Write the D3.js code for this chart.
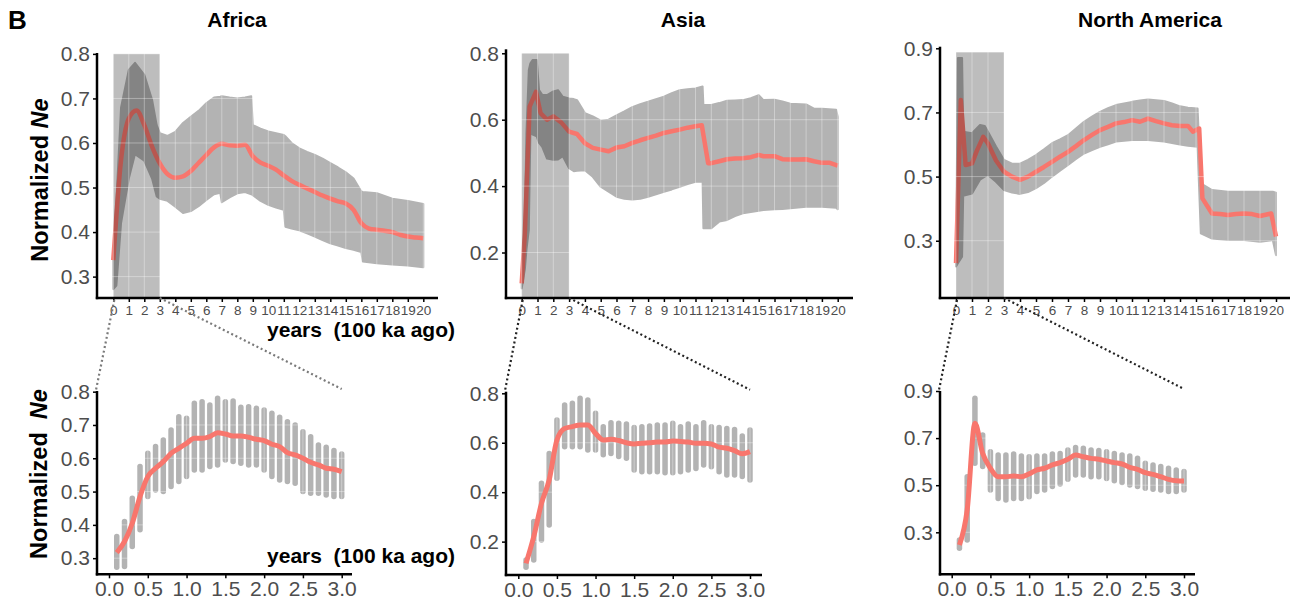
<!DOCTYPE html>
<html lang="en">
<head>
<meta charset="utf-8">
<title>Normalized Ne by continent</title>
<script src="https://d3js.org/d3.v7.min.js"></script>
<style>
    body { margin: 0; background: #fff; }
    svg { display: block; font-family: "Liberation Sans", Arial, Helvetica, sans-serif; }
    .ylab { white-space: pre; }
</style>
</head>
<body>
<svg id="chart" width="1297" height="600"></svg>
<script>
// ---- data ----
// top row: 0-20 (100 ka ago)
const africaLineX = [0,0.5,1,1.5,2,2.5,3,3.5,4,4.5,5,5.5,6,6.5,7,7.5,8,8.5,9,9.5,10,10.5,11,11.5,12,12.5,13,13.5,14,14.5,15,15.5,16,16.5,17,17.5,18,18.5,19,19.5,20];
const africaLineNe = [0.337,0.562,0.655,0.673,0.64,0.592,0.554,0.53,0.522,0.525,0.537,0.555,0.573,0.59,0.598,0.595,0.594,0.596,0.57,0.556,0.549,0.54,0.527,0.515,0.506,0.498,0.49,0.482,0.475,0.469,0.464,0.45,0.42,0.408,0.405,0.403,0.4,0.394,0.39,0.388,0.386];
const africaBandX = [0,0.2,0.5,1,1.4,2,2.5,2.8,3,3.5,4,4.5,5,5.5,6,6.5,6.9,7,7.5,8,8.5,8.9,9,9.5,10,10.5,11,11.1,11.5,12,12.5,13,13.5,14,14.5,15,15.5,16,16.1,17,18,19,20];
const africaBandLo = [0.272,0.28,0.42,0.52,0.575,0.56,0.52,0.48,0.475,0.47,0.457,0.443,0.447,0.458,0.472,0.485,0.488,0.467,0.478,0.487,0.49,0.485,0.483,0.47,0.461,0.455,0.45,0.412,0.408,0.404,0.397,0.39,0.382,0.375,0.37,0.364,0.36,0.355,0.334,0.33,0.327,0.325,0.321];
const africaBandHi = [0.34,0.47,0.68,0.764,0.78,0.753,0.697,0.64,0.622,0.616,0.625,0.645,0.659,0.672,0.689,0.702,0.704,0.705,0.702,0.7,0.702,0.705,0.64,0.632,0.626,0.622,0.618,0.615,0.6,0.588,0.58,0.573,0.565,0.555,0.545,0.534,0.52,0.491,0.49,0.487,0.475,0.47,0.463];

const asiaLineX = [0,0.2,0.5,0.9,1.2,1.6,2,2.5,3,3.5,4,4.5,5,5.5,6,6.5,7,7.5,8,8.5,9,9.5,10,10.5,11,11.4,11.8,12,12.5,13,13.5,14,14.5,15,15.3,16,16.5,17,17.5,18,18.5,19,19.5,20];
const asiaLineNe = [0.107,0.258,0.639,0.684,0.619,0.6,0.61,0.592,0.564,0.557,0.529,0.515,0.51,0.505,0.516,0.52,0.53,0.538,0.545,0.552,0.56,0.565,0.57,0.576,0.58,0.583,0.469,0.469,0.475,0.481,0.483,0.484,0.487,0.494,0.49,0.49,0.481,0.48,0.48,0.481,0.475,0.47,0.47,0.462];
const asiaBandX = [0,0.2,0.3,0.45,0.55,0.7,0.95,1.1,1.3,1.6,2,2.3,2.6,3,3.3,3.5,4,4.5,5,5.5,6,6.5,7,7.5,8,8.5,9,9.5,10,10.5,11,11.45,11.5,12,12.5,13,13.5,14,14.5,15,15.3,16,16.5,17,18,18.5,19,19.9,20];
const asiaBandLo = [0.092,0.15,0.208,0.268,0.56,0.555,0.55,0.53,0.518,0.483,0.479,0.48,0.49,0.454,0.445,0.446,0.448,0.428,0.398,0.383,0.368,0.362,0.36,0.362,0.368,0.375,0.383,0.39,0.398,0.406,0.413,0.413,0.273,0.273,0.293,0.298,0.31,0.318,0.322,0.326,0.328,0.33,0.331,0.333,0.338,0.338,0.338,0.335,0.33];
const asiaBandHi = [0.11,0.3,0.56,0.75,0.77,0.78,0.78,0.689,0.675,0.674,0.685,0.689,0.669,0.664,0.662,0.659,0.62,0.61,0.597,0.6,0.613,0.625,0.638,0.647,0.654,0.662,0.669,0.68,0.689,0.692,0.694,0.7,0.644,0.644,0.65,0.657,0.658,0.659,0.665,0.674,0.659,0.66,0.655,0.648,0.646,0.633,0.633,0.63,0.609];

const naLineX = [0,0.3,0.6,1,1.3,1.7,2,2.5,3,3.5,4,4.5,5,5.5,6,6.5,7,7.5,8,8.5,9,9.5,10,10.5,11,11.5,12,12.5,13,13.5,14,14.5,14.8,15.2,15.4,16,16.5,17,17.5,18,18.5,19,19.7,20];
const naLineNe = [0.23,0.739,0.536,0.541,0.58,0.624,0.603,0.55,0.515,0.5,0.49,0.5,0.515,0.53,0.546,0.562,0.577,0.595,0.614,0.63,0.645,0.655,0.666,0.67,0.676,0.671,0.681,0.673,0.666,0.66,0.658,0.658,0.64,0.65,0.432,0.385,0.383,0.38,0.383,0.385,0.383,0.377,0.385,0.313];
const naBandX = [0,0.12,0.38,0.45,1,1.5,1.8,2,2.5,3,3.5,4,4.5,5,5.5,6,6.5,7,7.5,8,8.5,9,9.5,10,10.5,11,11.5,12,12.5,13,13.5,14,14.5,15.1,15.3,16,17,18,19,19.8,20];
const naBandLo = [0.22,0.23,0.25,0.44,0.447,0.49,0.5,0.505,0.484,0.458,0.45,0.446,0.452,0.464,0.48,0.5,0.518,0.536,0.555,0.572,0.583,0.593,0.601,0.609,0.612,0.614,0.614,0.614,0.612,0.609,0.605,0.6,0.596,0.593,0.323,0.307,0.302,0.302,0.297,0.302,0.255];
const naBandHi = [0.24,0.87,0.87,0.64,0.635,0.661,0.658,0.64,0.594,0.552,0.54,0.54,0.552,0.567,0.585,0.604,0.616,0.629,0.65,0.671,0.687,0.702,0.713,0.723,0.728,0.733,0.737,0.74,0.738,0.736,0.728,0.719,0.715,0.712,0.479,0.458,0.453,0.453,0.453,0.453,0.45];

// zoom window (0-3) drawn on the top row, top edge in Ne units
const windowTop = [0.8, 0.8, 0.8875];

// bottom row: zoomed 0-3
const zoomX = [0.1,0.2,0.3,0.4,0.5,0.6,0.7,0.8,0.9,1.0,1.1,1.2,1.3,1.4,1.5,1.6,1.7,1.8,1.9,2.0,2.1,2.2,2.3,2.4,2.5,2.6,2.7,2.8,2.9,3.0];
const africaZoomNe = [0.317,0.35,0.405,0.485,0.545,0.57,0.59,0.615,0.63,0.645,0.66,0.66,0.665,0.677,0.673,0.667,0.667,0.663,0.657,0.653,0.642,0.635,0.617,0.61,0.6,0.588,0.58,0.57,0.567,0.56];
const africaZoomHi = [0.365,0.41,0.48,0.575,0.615,0.635,0.655,0.685,0.725,0.72,0.765,0.77,0.76,0.78,0.77,0.772,0.753,0.755,0.75,0.745,0.735,0.723,0.71,0.7,0.68,0.665,0.64,0.633,0.623,0.613];
const africaZoomLo = [0.273,0.275,0.335,0.385,0.485,0.505,0.5,0.515,0.53,0.545,0.565,0.565,0.575,0.58,0.595,0.59,0.585,0.58,0.58,0.565,0.545,0.535,0.53,0.525,0.5,0.495,0.495,0.49,0.485,0.485];

const asiaZoomNe = [0.112,0.22,0.355,0.45,0.611,0.658,0.665,0.672,0.672,0.638,0.611,0.614,0.609,0.6,0.595,0.598,0.6,0.603,0.603,0.607,0.605,0.603,0.598,0.598,0.595,0.582,0.578,0.568,0.555,0.564];
const asiaZoomHi = [0.126,0.281,0.436,0.557,0.692,0.753,0.76,0.78,0.773,0.719,0.665,0.681,0.679,0.676,0.662,0.665,0.668,0.672,0.672,0.679,0.665,0.676,0.665,0.681,0.665,0.662,0.658,0.654,0.627,0.652];
const asiaZoomLo = [0.096,0.126,0.207,0.267,0.456,0.584,0.584,0.584,0.571,0.571,0.551,0.557,0.544,0.537,0.49,0.483,0.483,0.483,0.479,0.479,0.483,0.49,0.496,0.51,0.503,0.483,0.47,0.47,0.463,0.449];

const naZoomNe = [0.246,0.395,0.763,0.635,0.572,0.536,0.536,0.539,0.536,0.548,0.565,0.572,0.586,0.596,0.61,0.628,0.621,0.614,0.61,0.603,0.596,0.59,0.576,0.567,0.553,0.546,0.536,0.525,0.519,0.518];
const naZoomHi = [0.267,0.536,0.869,0.713,0.642,0.628,0.628,0.633,0.624,0.621,0.624,0.624,0.633,0.635,0.65,0.66,0.657,0.65,0.647,0.642,0.635,0.628,0.624,0.614,0.593,0.586,0.579,0.572,0.565,0.558];
const naZoomLo = [0.232,0.267,0.593,0.579,0.48,0.444,0.437,0.444,0.444,0.451,0.473,0.48,0.494,0.505,0.525,0.543,0.543,0.536,0.536,0.529,0.519,0.511,0.501,0.494,0.487,0.483,0.48,0.473,0.473,0.48];

// ticks
const topXTicks = [0,1,2,3,4,5,6,7,8,9,10,11,12,13,14,15,16,17,18,19,20];
const zoomXTicks = [0,0.5,1,1.5,2,2.5,3];
const africaYTicks = [0.3,0.4,0.5,0.6,0.7,0.8];
const asiaYTicks = [0.2,0.4,0.6,0.8];
const naYTicks = [0.3,0.5,0.7,0.9];

const titles = ["Africa", "Asia", "North America"];

// ---- layout ----
const RED = "#f8766d", BAND = "#b3b3b3", TICKTXT = "#4d4d4d";

const panels = [
    {
        title: titles[0], titleX: 237, yTicks: africaYTicks, win: windowTop[0], smooth: true, connColor: "#7a7a7a",
        top: {left: 97, right: 438, x0: 113.3, x1: 423.3, yTop: 53, yBot: 298, dom: [0.252, 0.802]},
        bot: {left: 97, right: 352, x0: 109, x1: 341.7, yTop: 391, yBot: 574.3, dom: [0.2516, 0.802]},
        lineX: africaLineX, lineNe: africaLineNe, bandX: africaBandX, bandLo: africaBandLo, bandHi: africaBandHi,
        zNe: africaZoomNe, zHi: africaZoomHi, zLo: africaZoomLo
    },
    {
        title: titles[1], titleX: 683, yTicks: asiaYTicks, win: windowTop[1], smooth: false, connColor: "#222",
        top: {left: 506, right: 853, x0: 521.7, x1: 837.7, yTop: 49.3, yBot: 298, dom: [0.063, 0.812]},
        bot: {left: 506, right: 762, x0: 518.3, x1: 750, yTop: 391.7, yBot: 575, dom: [0.065, 0.8065]},
        lineX: asiaLineX, lineNe: asiaLineNe, bandX: asiaBandX, bandLo: asiaBandLo, bandHi: asiaBandHi,
        zNe: asiaZoomNe, zHi: asiaZoomHi, zLo: asiaZoomLo
    },
    {
        title: titles[2], titleX: 1150, yTicks: naYTicks, win: windowTop[2], smooth: false, connColor: "#222",
        top: {left: 940, right: 1290, x0: 956, x1: 1276, yTop: 46.7, yBot: 298, dom: [0.1214, 0.905]},
        bot: {left: 940, right: 1195, x0: 951.7, x1: 1184, yTop: 391, yBot: 574.3, dom: [0.1217, 0.9]},
        lineX: naLineX, lineNe: naLineNe, bandX: naBandX, bandLo: naBandLo, bandHi: naBandHi,
        zNe: naZoomNe, zHi: naZoomHi, zLo: naZoomLo
    }
];

const svg = d3.select("#chart");

function styleAxis(g, fontSize) {
    g.select(".domain").remove();
    g.selectAll(".tick line").attr("stroke", "#000").attr("stroke-width", 1.5);
    g.selectAll(".tick text").attr("fill", TICKTXT).attr("font-size", fontSize)
        .attr("font-family", "'Liberation Sans', Arial, Helvetica, sans-serif");
}

function drawAxes(g, box, x, y, xTicks, yTicks, xFmt, xFont) {
    g.append("g").attr("transform", `translate(${box.left},0)`)
        .call(d3.axisLeft(y).tickValues(yTicks).tickSize(4).tickPadding(3).tickFormat(d3.format(".1f")))
        .call(a => styleAxis(a, 21));
    g.append("g").attr("transform", `translate(0,${box.yBot})`)
        .call(d3.axisBottom(x).tickValues(xTicks).tickSize(4).tickPadding(3).tickFormat(xFmt))
        .call(a => styleAxis(a, xFont));
    // axis lines
    g.append("line").attr("x1", box.left).attr("x2", box.left).attr("y1", box.yTop).attr("y2", box.yBot + 1.2)
        .attr("stroke", "#000").attr("stroke-width", 2.5);
    g.append("line").attr("x1", box.left - 1.2).attr("x2", box.right).attr("y1", box.yBot).attr("y2", box.yBot)
        .attr("stroke", "#000").attr("stroke-width", 2.5);
}

function gridlines(g, x, y, xTicks, yTicks, box) {
    const gg = g.append("g").attr("stroke", "#fff").attr("stroke-opacity", 0.35).attr("stroke-width", 1);
    gg.selectAll(".gv").data(xTicks).join("line")
        .attr("x1", d => x(d)).attr("x2", d => x(d)).attr("y1", box.yTop).attr("y2", box.yBot);
    gg.selectAll(".gh").data(yTicks).join("line")
        .attr("x1", box.left).attr("x2", box.right).attr("y1", d => y(d)).attr("y2", d => y(d));
}

panels.forEach(p => {
    // ---------- top panel ----------
    const t = p.top;
    const xt = d3.scaleLinear().domain([0, 20]).range([t.x0, t.x1]);
    const yt = d3.scaleLinear().domain(t.dom).range([t.yBot, t.yTop]);
    const gt = svg.append("g");

    const band = p.bandX.map((v, i) => ({x: v, lo: p.bandLo[i], hi: p.bandHi[i]}));
    gt.append("path").datum(band)
        .attr("d", d3.area().x(d => xt(d.x)).y0(d => yt(d.lo)).y1(d => yt(d.hi)))
        .attr("fill", BAND).attr("stroke", BAND).attr("stroke-width", 2).attr("stroke-linejoin", "round");

    const line = p.lineX.map((v, i) => ({x: v, y: p.lineNe[i]}));
    gt.append("path").datum(line)
        .attr("d", d3.line().x(d => xt(d.x)).y(d => yt(d.y)).curve(p.smooth ? d3.curveMonotoneX : d3.curveLinear))
        .attr("fill", "none").attr("stroke", RED).attr("stroke-width", 4.5)
        .attr("stroke-linejoin", "round").attr("stroke-linecap", "butt");

    // zoom window
    gt.append("rect")
        .attr("x", xt(0)).attr("width", xt(3) - xt(0))
        .attr("y", yt(p.win)).attr("height", t.yBot - yt(p.win))
        .attr("fill", "#000").attr("fill-opacity", 0.26);

    gridlines(gt, xt, yt, topXTicks, p.yTicks, t);
    drawAxes(gt, t, xt, yt, topXTicks, p.yTicks, d3.format("d"), 13.5);

    svg.append("text").attr("x", p.titleX).attr("y", 27).attr("text-anchor", "middle")
        .attr("font-size", 21).attr("font-weight", "bold").text(p.title);

    // ---------- bottom (zoomed) panel ----------
    const b = p.bot;
    const xb = d3.scaleLinear().domain([0, 3]).range([b.x0, b.x1]);
    const yb = d3.scaleLinear().domain(b.dom).range([b.yBot, b.yTop]);
    const gb = svg.append("g");

    const zd = zoomX.map((v, i) => ({x: v, ne: p.zNe[i], lo: p.zLo[i], hi: p.zHi[i]}));
    gb.selectAll(".seg").data(zd).join("line")
        .attr("x1", d => xb(d.x)).attr("x2", d => xb(d.x))
        .attr("y1", d => yb(d.lo)).attr("y2", d => yb(d.hi))
        .attr("stroke", BAND).attr("stroke-width", 5.5).attr("stroke-linecap", "round");

    gridlines(gb, xb, yb, zoomXTicks, p.yTicks, b);

    gb.append("path").datum(zd)
        .attr("d", d3.line().x(d => xb(d.x)).y(d => yb(d.ne)).curve(d3.curveMonotoneX))
        .attr("fill", "none").attr("stroke", RED).attr("stroke-width", 5)
        .attr("stroke-linejoin", "round");

    drawAxes(gb, b, xb, yb, zoomXTicks, p.yTicks, d3.format(".1f"), 21);

    // dotted connectors from window to zoom panel
    const conn = svg.append("g").attr("stroke", p.connColor).attr("stroke-width", 2.2)
        .attr("stroke-dasharray", "2,2.7").attr("fill", "none");
    conn.append("line").attr("x1", xt(0) + 1).attr("y1", t.yBot + 2).attr("x2", b.left - 1).attr("y2", b.yTop - 1);
    conn.append("line").attr("x1", xt(3)).attr("y1", t.yBot).attr("x2", xb(3)).attr("y2", b.yTop - 2);
});

// panel letter
svg.append("text").attr("x", 8).attr("y", 29).attr("font-size", 26).attr("font-weight", "bold").text("B");

// y labels
function yLabel(x, y, gap) {
    const txt = svg.append("text").attr("class", "ylab")
        .attr("transform", `translate(${x},${y}) rotate(-90)`)
        .attr("text-anchor", "middle").attr("font-size", 23.5).attr("font-weight", "bold");
    txt.append("tspan").text("Normalized" + gap);
    txt.append("tspan").attr("font-style", "italic").text("Ne");
}
yLabel(48, 180, " ");
yLabel(47, 474, "  ");

// x labels
[337, 563].forEach(yy => {
    svg.append("text").attr("class", "ylab").attr("x", 455).attr("y", yy).attr("text-anchor", "end")
        .attr("font-size", 21).attr("font-weight", "bold").text("years  (100 ka ago)");
});
</script>
</body>
</html>
